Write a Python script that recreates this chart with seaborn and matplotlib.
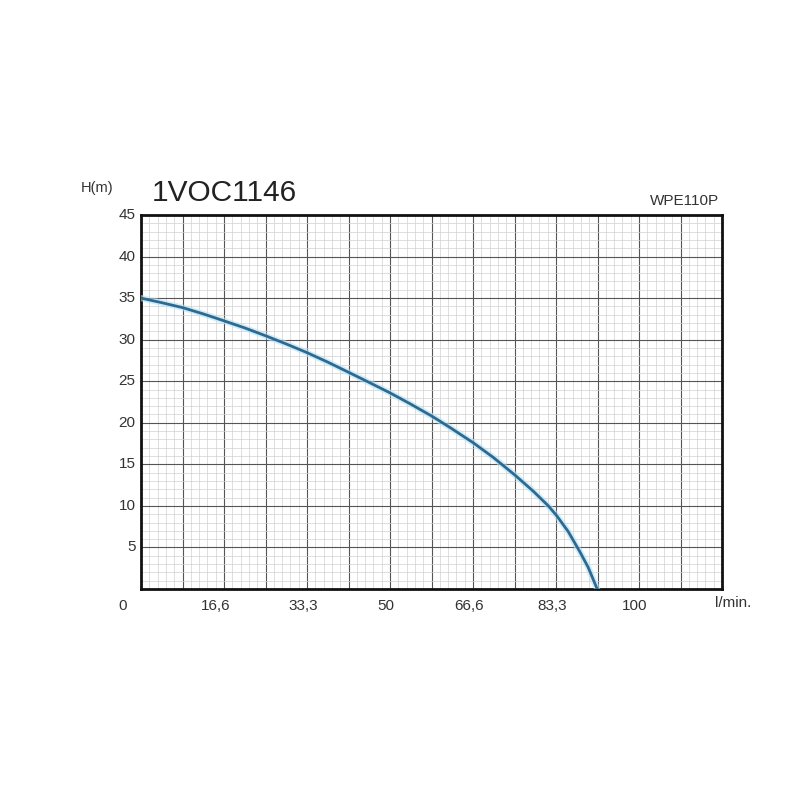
import numpy as np
import pandas as pd
import matplotlib.pyplot as plt
from matplotlib.ticker import MultipleLocator
import seaborn as sns

# curva caracteristica (caudal l/min, altura m)
caudal = [0, 3.8, 8.4, 12.5, 16.5, 20.9, 25.1, 29.3, 33.3, 37.5, 41.6, 46.0, 50.0,
          54.0, 58.4, 62.0, 66.7, 70.7, 75.1, 78.8, 81.8, 83.5, 85.8, 88.2, 89.8, 91.6]
altura = [35.0, 34.5, 33.85, 33.1, 32.3, 31.4, 30.45, 29.45, 28.45, 27.3, 26.1, 24.8, 23.6,
          22.3, 20.8, 19.45, 17.6, 15.85, 13.7, 11.75, 10.0, 8.8, 6.9, 4.4, 2.6, 0]

xticks = [0, 16.667, 33.333, 50, 66.667, 83.333, 100]
xlabels = ['0', '16,6', '33,3', '50', '66,6', '83,3', '100']
yticks = [5, 10, 15, 20, 25, 30, 35, 40, 45]

df = pd.DataFrame({'Q': caudal, 'H': altura})

sns.set_style('white')
plt.rcParams['font.family'] = ['Liberation Sans', 'DejaVu Sans']

fig = plt.figure(figsize=(8, 8), dpi=100)
ax = fig.add_axes([0.17625, 0.26375, 0.72625, 0.4675])

# halo claro + linea
ax.plot(caudal, altura, color='#b5e2f4', lw=4.5, alpha=0.6,
        solid_capstyle='round', solid_joinstyle='round', zorder=3)
sns.lineplot(data=df, x='Q', y='H', color='#2d6a92', lw=2.0, ax=ax, zorder=4,
             sort=False, solid_joinstyle='round')

ax.set_xlim(0, 14 * 100 / 12)
ax.set_ylim(0, 45)
ax.xaxis.set_major_locator(MultipleLocator(100 / 12))
ax.xaxis.set_minor_locator(MultipleLocator(100 / 60))
ax.yaxis.set_major_locator(MultipleLocator(5))
ax.yaxis.set_minor_locator(MultipleLocator(1))
ax.grid(which='major', color='#555555', lw=0.8)
ax.grid(which='minor', color='#d0d0d0', lw=0.5)
ax.set_axisbelow(True)

# etiquetas como texto aparte (desplazadas como en el original)
ax.tick_params(which='both', length=0, labelbottom=False, labelleft=False)
for v, lab in zip(xticks, xlabels):
    off = -13 if v == 0 else (-6 if v < 20 else -3)
    ax.annotate(lab, xy=(v, 0), xycoords=('data', 'axes fraction'),
                xytext=(off, -12.5), textcoords='offset points',
                ha='center', va='center', fontsize=11, color='#333333')
for v in yticks:
    ax.annotate(str(v), xy=(0, v), xycoords=('axes fraction', 'data'),
                xytext=(-4, 0), textcoords='offset points',
                ha='right', va='center', fontsize=11, color='#333333')

for s in ax.spines.values():
    s.set_color('#111111')
    s.set_linewidth(2)
    s.set_visible(True)

ax.set_xlabel('')
ax.set_ylabel('')

fig.text(97 / 800, 1 - 188 / 800, 'H(m)', ha='center', va='center', fontsize=10.5, color='#333333')
fig.text(152 / 800, 1 - 193 / 800, '1VOC1146', ha='left', va='center', fontsize=21.5, color='#222222')
fig.text(719 / 800, 1 - 201 / 800, 'WPE110P', ha='right', va='center', fontsize=11, color='#333333')
fig.text(733 / 800, 1 - 603 / 800, 'l/min.', ha='center', va='center', fontsize=11, color='#333333')

fig.savefig('out.png', dpi=100)
